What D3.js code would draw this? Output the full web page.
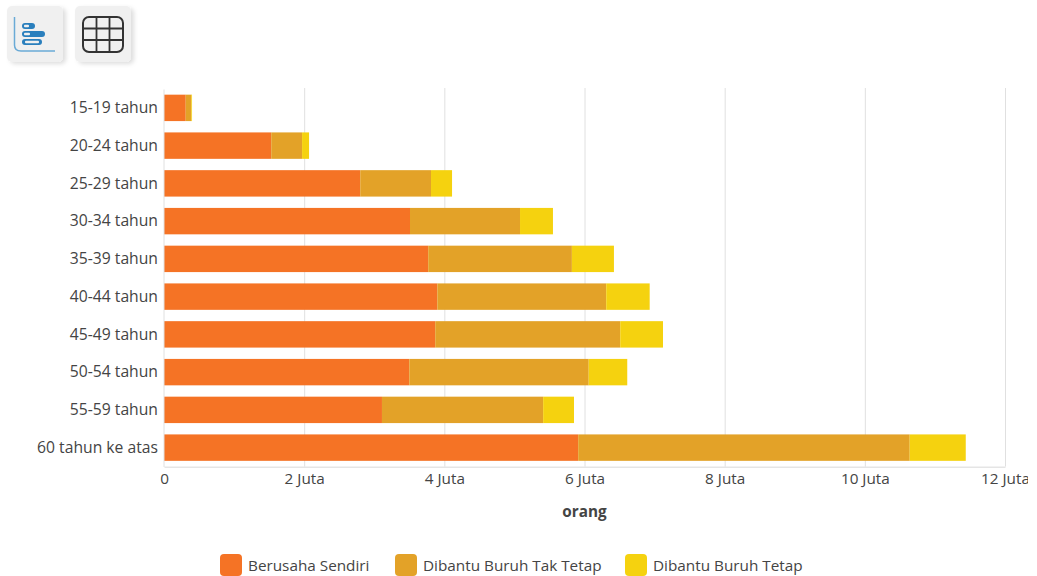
<!DOCTYPE html>
<html>
<head>
<meta charset="utf-8">
<script src="https://cdn.jsdelivr.net/npm/d3@7/dist/d3.min.js"></script>
<style>
  html, body { margin: 0; padding: 0; background: #fff; overflow: hidden; }
  svg, svg g { font-family: "Open Sans", "Noto Sans", sans-serif; }
  svg { display: block; }
</style>
</head>
<body>
<svg id="chart" width="1037" height="576"></svg>
<script>
// Workers by age group and employment status, in millions of people
const ageGroups = ["15-19 tahun", "20-24 tahun", "25-29 tahun", "30-34 tahun", "35-39 tahun",
                   "40-44 tahun", "45-49 tahun", "50-54 tahun", "55-59 tahun", "60 tahun ke atas"];
const seriesNames = ["Berusaha Sendiri", "Dibantu Buruh Tak Tetap", "Dibantu Buruh Tetap"];
const seriesColors = ["#f57325", "#e3a228", "#f5d20f"];
const berusahaSendiri = [0.31, 1.53, 2.80, 3.51, 3.77, 3.90, 3.87, 3.50, 3.11, 5.91];
const buruhTakTetap   = [0.08, 0.44, 1.01, 1.57, 2.05, 2.41, 2.64, 2.56, 2.30, 4.73];
const buruhTetap      = [0.01, 0.10, 0.30, 0.47, 0.60, 0.62, 0.61, 0.55, 0.44, 0.80];
const xTicks = [0, 2, 4, 6, 8, 10, 12];
const xTickLabels = ["0", "2 Juta", "4 Juta", "6 Juta", "8 Juta", "10 Juta", "12 Juta"];
const xAxisTitle = "orang";

const svg = d3.select("#chart");
const plot = { left: 164, right: 1005, top: 89, bottom: 466.5 };
const textColor = "#444";
const labelSize = 15.3;
const categorySize = 15.7;

const x = d3.scaleLinear().domain([0, 12]).range([plot.left, plot.right]);
const y = d3.scaleBand().domain(ageGroups).range([plot.top, plot.bottom]).paddingInner(0.3).paddingOuter(0.15);

const rows = ageGroups.map((group, i) => ({
  group,
  [seriesNames[0]]: berusahaSendiri[i],
  [seriesNames[1]]: buruhTakTetap[i],
  [seriesNames[2]]: buruhTetap[i]
}));
const stacked = d3.stack().keys(seriesNames)(rows);

// Toolbar buttons above the plot
const defs = svg.append("defs");
const shadow = defs.append("filter").attr("id", "btnShadow")
  .attr("x", "-20%").attr("y", "-20%").attr("width", "150%").attr("height", "150%");
shadow.append("feDropShadow").attr("dx", 3).attr("dy", 2).attr("stdDeviation", 2)
  .attr("flood-color", "#000").attr("flood-opacity", 0.13);

const buttons = svg.append("g");
[7, 75].forEach(bx => {
  buttons.append("rect").attr("x", bx).attr("y", 6).attr("width", 56).attr("height", 56)
    .attr("rx", 5).attr("fill", "#f0f0f0").attr("filter", "url(#btnShadow)");
});

// Chart-type icon
const icon = buttons.append("g");
icon.append("path").attr("d", "M14.5 17V45Q14.5 51 21 51H55")
  .attr("fill", "none").attr("stroke", "#6aaad6").attr("stroke-width", 1.5);
[[22, 35], [22, 45], [22, 42]].forEach(([ix, ex], k) => {
  icon.append("rect").attr("x", ix).attr("y", [23, 31, 39][k]).attr("width", ex - ix).attr("height", 6)
    .attr("rx", 3).attr("fill", "#2a7fbd");
});
[[24, 29], [24, 30], [25, 39]].forEach(([ix, ex], k) => {
  icon.append("rect").attr("x", ix).attr("y", [24.8, 32.8, 40.8][k]).attr("width", ex - ix).attr("height", 2.4)
    .attr("rx", 1).attr("fill", "#f0f0f0");
});

// Table icon
const grid = buttons.append("g").attr("fill", "none").attr("stroke", "#333");
grid.append("rect").attr("x", 83).attr("y", 17).attr("width", 40).attr("height", 35)
  .attr("rx", 6).attr("stroke-width", 2);
[96.5, 109.5].forEach(gx => grid.append("line").attr("x1", gx).attr("x2", gx).attr("y1", 17).attr("y2", 52).attr("stroke-width", 1.8));
[28.5, 40].forEach(gy => grid.append("line").attr("x1", 83).attr("x2", 123).attr("y1", gy).attr("y2", gy).attr("stroke-width", 1.8));

// Vertical gridlines
svg.append("g").selectAll("line").data(xTicks.slice(1)).join("line")
  .attr("x1", d => x(d) + 0.5).attr("x2", d => x(d) + 0.5)
  .attr("y1", plot.top - 1).attr("y2", plot.bottom)
  .attr("stroke", "#e0e0e0");

// Stacked bars
svg.append("g").selectAll("g").data(stacked).join("g")
  .attr("fill", (d, i) => seriesColors[i])
  .selectAll("rect").data(d => d).join("rect")
  .attr("x", d => x(d[0]))
  .attr("y", d => y(d.data.group))
  .attr("width", d => x(d[1]) - x(d[0]))
  .attr("height", y.bandwidth());

// Category axis
const yAxis = svg.append("g").attr("transform", `translate(${plot.left - 0.5},0)`)
  .call(d3.axisLeft(y).tickSize(0).tickPadding(5.5));
yAxis.attr("font-family", null);
yAxis.select(".domain").attr("stroke", "#e0e0e0");
yAxis.selectAll("text").attr("font-size", categorySize).attr("fill", textColor).attr("dy", "0.33em");

// Value axis, cut off where the widget ends on the right
const clip = defs.append("clipPath").attr("id", "widgetClip");
clip.append("rect").attr("x", 0).attr("y", 0).attr("width", 1028).attr("height", 576);
const xAxis = svg.append("g").attr("transform", `translate(0,${plot.bottom})`).attr("clip-path", "url(#widgetClip)")
  .call(d3.axisBottom(x).tickValues(xTicks).tickFormat((d, i) => xTickLabels[i]).tickSize(0).tickPadding(7));
xAxis.attr("font-family", null);
xAxis.select(".domain").attr("stroke", "#ccc");
xAxis.selectAll("text").attr("font-size", labelSize).attr("fill", textColor);

svg.append("text").attr("x", (plot.left + plot.right) / 2).attr("y", 517).attr("text-anchor", "middle")
  .attr("font-size", labelSize).attr("font-weight", 700).attr("fill", textColor).text(xAxisTitle);

// Legend
const legendX = [220, 395, 625];
const legend = svg.append("g").selectAll("g").data(seriesNames).join("g")
  .attr("transform", (d, i) => `translate(${legendX[i]},554)`);
legend.append("rect").attr("width", 22).attr("height", 22).attr("rx", 4)
  .attr("fill", (d, i) => seriesColors[i]);
legend.append("text").attr("x", 28).attr("y", 16.5).attr("font-size", labelSize).attr("fill", textColor).text(d => d);
</script>
</body>
</html>
